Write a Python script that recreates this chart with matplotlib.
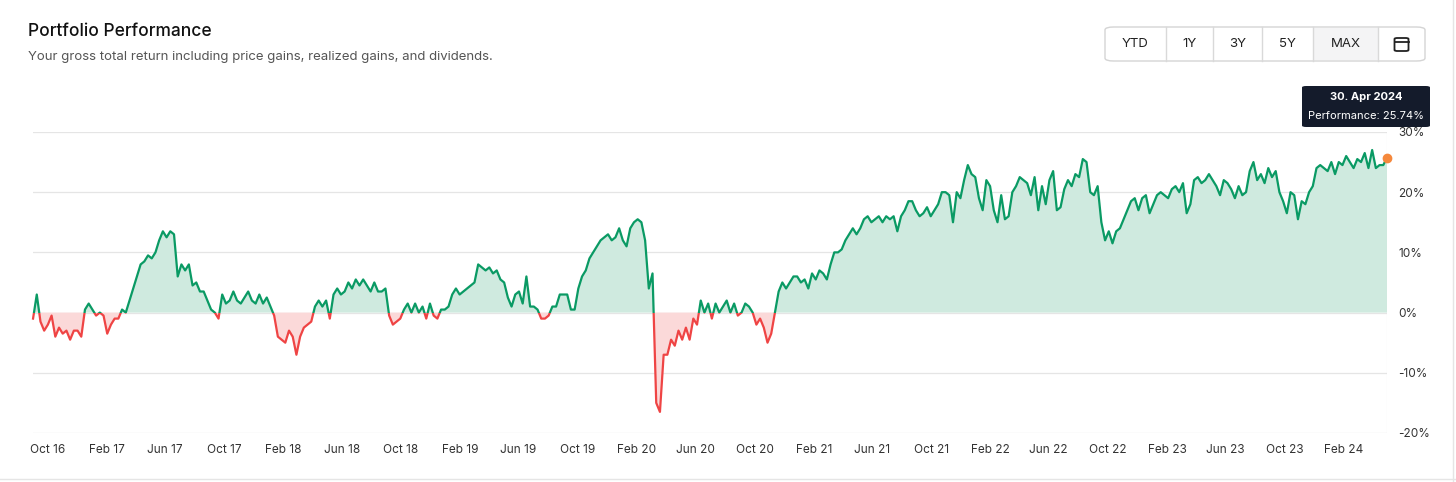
import numpy as np
import pandas as pd
import matplotlib
matplotlib.use("Agg")
import matplotlib.pyplot as plt
import matplotlib.dates as mdates
from matplotlib.patches import Rectangle, FancyBboxPatch

plt.rcParams['font.family'] = ['Inter', 'DejaVu Sans']

performance = [
    -1, 3, -1.5, -3, -2, -0.5, -4, -2.5, -3.5, -3, -4.5, -3, -3, -4, 0.5, 1.5,
    0.5, -0.5, 0, -0.5, -3.5, -2, -1, -1, 0.5, 0, 2, 4, 6, 8, 8.5,
    9.5, 9, 10, 12, 13.5, 12.5, 13.5, 13, 6, 8, 7, 8, 4.5, 5, 3.5, 3.5,
    2, 0.5, 0, -1, 3, 1.5, 2, 3.5, 2, 1.5, 2.5, 3.5, 2, 1.5, 3, 1.5,
    2.5, 1, -0.5, -4, -4.5, -5, -3, -4, -7, -4, -2.5, -2, -1.5, 1, 2, 1,
    2, -1, 3, 4, 3, 3.5, 5, 4, 5.5, 4.5, 5.5, 4.5, 3.5, 5, 3.5, 3.5,
    4, -0.5, -2, -1.5, -1, 0.5, 1.5, 0, 1.5, 0, 1, -1, 1.5, -0.5, -1, 0.5,
    0.5, 1, 3, 4, 3, 3.5, 4, 4.5, 5, 8, 7.5, 7, 7.5, 6.5, 7, 5.5,
    5, 2.5, 1, 3, 3.5, 1.5, 6, 1, 1, 0.5, -1, -1, -0.5, 1, 1, 3,
    3, 3, 0.5, 0.5, 4, 6, 7, 9, 10, 11, 12, 12.5, 13, 12, 12.5, 14,
    12, 11, 14, 15, 15.5, 15, 12, 4, 6.5, -15, -16.5, -7, -7, -4.5, -5.5, -3,
    -4.5, -2.5, -4.5, -1, -2, 2, 0, 1.5, -1, 1.5, 0, 1, 2, 0, 1.5, -0.5,
    0, 1.5, 1, 0, -2, -1, -2.5, -5, -3.5, 0, 3.5, 5, 4, 5, 6, 6,
    5, 5.5, 4, 6.5, 5.5, 7, 6.5, 5.5, 8, 10, 10, 10.5, 12, 13, 14, 13,
    14, 15.5, 16, 15, 15.5, 16, 15, 16, 15.5, 16, 13.5, 16, 17, 18.5, 18.5, 17,
    16, 16.5, 17.5, 16, 17, 18, 20, 20, 19.5, 15, 20, 19, 22, 24.5, 23, 22.5,
    19, 17, 22, 21, 17, 15, 19.5, 15.5, 16, 20, 21, 22.5, 22, 21.5, 19.5, 22.5,
    17, 21, 18, 22, 23.5, 17, 17.5, 20.5, 22, 21, 23, 22.5, 25.5, 25, 20, 19.5,
    21, 15, 12, 13.5, 11.5, 13.5, 14, 15.5, 17, 18.5, 19, 17, 19, 19.5, 16.5, 18,
    19.5, 20, 19.5, 19, 20.5, 21, 20, 21.5, 16.5, 18, 22, 22.5, 21.5, 22, 23, 22,
    21, 19.5, 22, 21.5, 20.5, 19, 21, 19.5, 20, 23.5, 25, 22, 23, 21.5, 24, 22.5,
    23.5, 20, 18.5, 16.5, 20, 19.5, 15.5, 18.5, 18, 20, 21, 24, 24.5, 24, 23.5, 25,
    23, 25, 24.5, 26, 25, 24, 25.5, 25, 26.5, 24, 27, 24, 24.5, 24.5, 25.74,
]
start_date = "2016-09-01"
end_date = "2024-04-30"
y_ticks = [-20, -10, 0, 10, 20, 30]
range_buttons = ["YTD", "1Y", "3Y", "5Y", "MAX"]

dates = pd.date_range(start_date, end_date, periods=len(performance))
vals = np.array(performance, dtype=float)

GREEN = "#0a9a64"
RED = "#ef4444"

fig = plt.figure(figsize=(14.56, 4.82), dpi=100)
ax = fig.add_axes([0.0227, 0.1017, 0.9299, 0.6245])
ax.set_ylim(-20, 30)
ax.set_xlim(dates[0], dates[-1])

ax.fill_between(dates, vals, 0, where=vals >= 0, interpolate=True,
                color="#cfeadf", linewidth=0)
ax.fill_between(dates, vals, 0, where=vals <= 0, interpolate=True,
                color="#fbd9d9", linewidth=0)
lg, = ax.plot(dates, vals, color=GREEN, lw=1.6, zorder=3)
lr, = ax.plot(dates, vals, color=RED, lw=1.6, zorder=3)
x0n, x1n = mdates.date2num(dates[0]), mdates.date2num(dates[-1])
rg = Rectangle((x0n - 10, 0), x1n - x0n + 20, 100, transform=ax.transData)
rr = Rectangle((x0n - 10, -100), x1n - x0n + 20, 100, transform=ax.transData)
lg.set_clip_path(rg)
lr.set_clip_path(rr)

ax.plot([dates[-1]], [vals[-1]], 'o', color="#f5883c", ms=6, zorder=5, clip_on=False)
ax.axvline(dates[-1], color="#dddddd", lw=0.8, zorder=1)

ax.set_yticks(y_ticks)
ax.set_yticklabels([f"{t}%" for t in y_ticks])
ax.yaxis.tick_right()
ax.grid(axis='y', color="#e5e5e5", lw=0.9)
ax.xaxis.set_major_locator(mdates.MonthLocator(bymonth=[2, 6, 10]))
ax.xaxis.set_major_formatter(mdates.DateFormatter("%b %y"))
ax.tick_params(length=0, labelsize=8.5, colors="#333333", pad=8)
for s in ax.spines.values():
    s.set_visible(False)
ax.set_axisbelow(True)

fig.text(28 / 1456, 1 - 32 / 482, "Portfolio Performance", fontsize=12.5,
         color="#111111", va="center", fontweight="medium")
fig.text(28 / 1456, 1 - 57 / 482,
         "Your gross total return including price gains, realized gains, and dividends.",
         fontsize=9.5, color="#555555", va="center")

# range buttons
W, H = 1456, 482
edges = [1105, 1166, 1213, 1262, 1313, 1378, 1425]
by0, by1 = 27, 61
box = FancyBboxPatch((edges[0] / W, 1 - by1 / H), (edges[-1] - edges[0]) / W,
                     (by1 - by0) / H, boxstyle="round,pad=0,rounding_size=0.006",
                     transform=fig.transFigure, facecolor="white",
                     edgecolor="#d4d4d4", lw=1)
fig.patches.append(box)
fig.patches.append(Rectangle((edges[4] / W, 1 - by1 / H + 0.002),
                             (edges[5] - edges[4]) / W, (by1 - by0) / H - 0.004,
                             transform=fig.transFigure, facecolor="#f4f4f5",
                             edgecolor="none"))
for e in edges[1:-1]:
    fig.add_artist(plt.Line2D([e / W, e / W], [1 - by1 / H, 1 - by0 / H],
                              transform=fig.transFigure, color="#d9d9d9", lw=1))
for i, lab in enumerate(range_buttons):
    fig.text((edges[i] + edges[i + 1]) / 2 / W, 1 - 44 / H, lab, ha="center",
             va="center", fontsize=9.5, color="#222222")
# calendar icon
cx, cy = (edges[5] + edges[6]) / 2, 44
fig.patches.append(FancyBboxPatch(((cx - 7) / W, 1 - (cy + 7) / H), 14 / W, 13 / H,
                                  boxstyle="round,pad=0,rounding_size=0.002",
                                  transform=fig.transFigure, facecolor="none",
                                  edgecolor="#222222", lw=1.3))
fig.add_artist(plt.Line2D([(cx - 7) / W, (cx + 7) / W], [1 - (cy - 2) / H] * 2,
                          transform=fig.transFigure, color="#222222", lw=1.3))

# tooltip
tip = FancyBboxPatch((1302 / W, 1 - 127 / H), 128 / W, 41 / H,
                     boxstyle="round,pad=0,rounding_size=0.003",
                     transform=fig.transFigure, facecolor="#141b2b", edgecolor="none")
fig.patches.append(tip)
fig.text(1366 / W, 1 - 97 / H, "30. Apr 2024", ha="center", va="center",
         fontsize=8, color="white", fontweight="bold")
fig.text(1366 / W, 1 - 116 / H, f"Performance: {vals[-1]:.2f}%", ha="center",
         va="center", fontsize=8, color="white")

fig.add_artist(plt.Line2D([0, 1], [1 - 479 / H] * 2, transform=fig.transFigure,
                          color="#e5e5e5", lw=1))
fig.add_artist(plt.Line2D([1453 / W] * 2, [0, 1], transform=fig.transFigure,
                          color="#e5e5e5", lw=1))

fig.savefig("out.png", dpi=100, facecolor="white")
